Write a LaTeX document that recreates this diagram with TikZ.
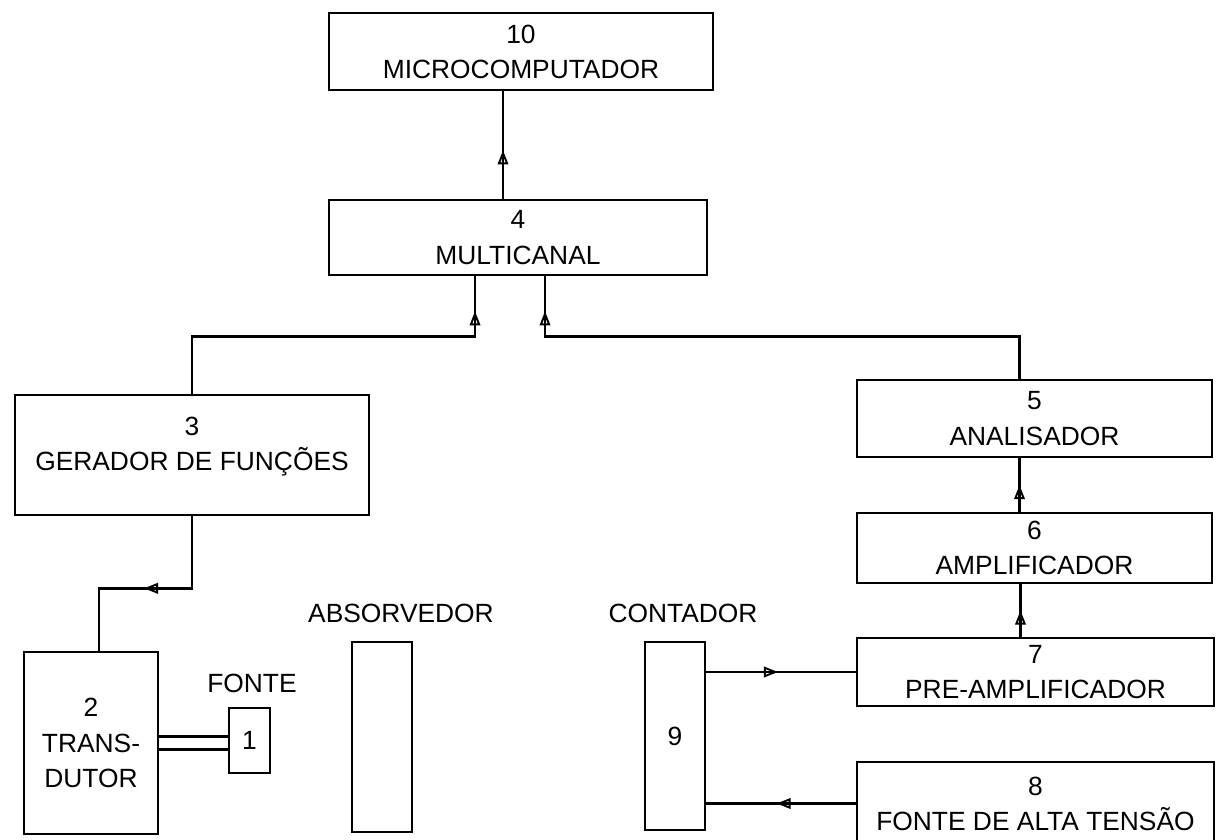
\documentclass[tikz,border=0pt]{standalone}
\usepackage{fontspec}
\setmainfont{Liberation Sans}
\usetikzlibrary{arrows.meta,decorations.markings}
\newcommand{\lblfont}{\fontsize{15}{20}\selectfont}
\tikzset{
  blk/.style={draw, line width=1.5pt, align=center, inner sep=0pt, font=\lblfont},
  lbl/.style={font=\lblfont, inner sep=0pt},
  flow/.style={line width=1.4pt, postaction={decorate},
    decoration={markings, mark=at position #1 with {\arrow{Triangle[open, length=8pt, width=6pt, line width=1.1pt]}}}},
  flow/.default=0.5,
}

\begin{document}
\begin{tikzpicture}
\useasboundingbox (0,0) rectangle (24.38,-16.8);
\node[blk, minimum width=7.68cm, minimum height=1.54cm] (mc) at (10.42,-1.03) {10\\MICROCOMPUTADOR};
\node[blk, minimum width=7.56cm, minimum height=1.5cm] (mca) at (10.36,-4.75) {4\\MULTICANAL};
\node[blk, minimum width=7.08cm, minimum height=2.4cm, text depth=0.45cm] (ger) at (3.84,-9.1) {3\\GERADOR DE FUNÇÕES};
\node[blk, minimum width=7.1cm, minimum height=1.54cm] (ana) at (20.69,-8.37) {5\\ANALISADOR};
\node[blk, minimum width=7.1cm, minimum height=1.4cm] (amp) at (20.69,-10.96) {6\\AMPLIFICADOR};
\node[blk, minimum width=7.14cm, minimum height=1.36cm] (pre) at (20.71,-13.44) {7\\PRE-AMPLIFICADOR};
\node[blk, minimum width=7.14cm, minimum height=1.66cm] (fat) at (20.71,-16.07) {8\\FONTE DE ALTA TENSÃO};
\node[blk, minimum width=2.68cm, minimum height=3.64cm] (tra) at (1.82,-14.86) {2\\TRANS-\\DUTOR};
\node[blk, minimum width=0.82cm, minimum height=1.3cm] (fon) at (4.99,-14.81) {1};
\node[blk, minimum width=1.2cm, minimum height=3.8cm] (abs) at (7.64,-14.74) {};
\node[blk, minimum width=1.2cm, minimum height=3.76cm] (cnt) at (13.5,-14.72) {9};

\node[lbl] (fonlbl) at (5.04,-13.66) {FONTE};
\node[lbl] (abslbl) at (8.02,-12.26) {ABSORVEDOR};
\node[lbl] (cntlbl) at (13.66,-12.26) {CONTADOR};

\draw[flow=0.45] ([xshift=-3mm]mca.north) -- ([xshift=-3mm]mca.north |- mc.south);
\draw[flow=-7mm] (ger.north) -- ++(0,1.14) -| ([xshift=-8.6mm]mca.south);
\draw[flow=-7mm] ([xshift=-3mm]ana.north) -- ++(0,0.84) -| ([xshift=5.4mm]mca.south);
\draw[flow] ([xshift=-3mm]amp.north) -- ([xshift=-3mm]amp.north |- ana.south);
\draw[flow] ([xshift=-3mm]pre.north) -- ([xshift=-3mm]pre.north |- amp.south);
\draw[flow=2.4cm] (ger.south) -- ++(0,-1.44) -| ([xshift=1.6mm]tra.north);
\draw[line width=1.4pt] ([yshift=1.3mm]tra.east) -- ([yshift=1.3mm]tra.east -| fon.west);
\draw[line width=1.4pt] ([yshift=-1.3mm]tra.east) -- ([yshift=-1.3mm]tra.east -| fon.west);
\draw[flow=0.48] (cnt.east |- pre.west) -- (pre.west);
\draw[flow=0.53] (fat.west) -- (fat.west -| cnt.east);
\end{tikzpicture}
\end{document}
